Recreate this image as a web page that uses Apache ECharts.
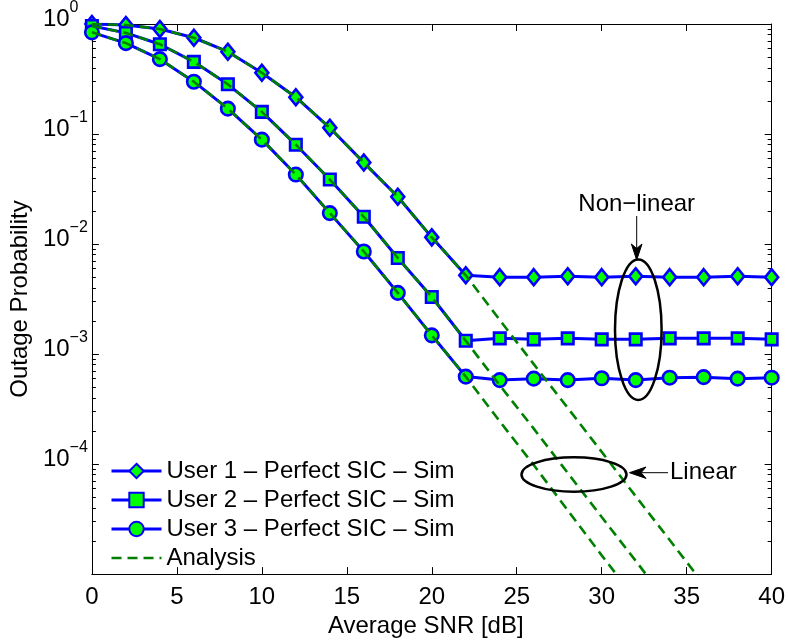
<!DOCTYPE html>
<html><head><meta charset="utf-8">
<script src="https://cdn.jsdelivr.net/npm/echarts@6/dist/echarts.min.js"></script>
<style>html,body{margin:0;padding:0;background:#fff}#c{width:788px;height:643px}</style>
</head><body><div id="c"></div>
<script>
// ---- data ----
const snr = [0,2,4,6,8,10,12,14,16,18,20,22,24,26,28,30,32,34,36,38,40];
const user1Sim = [1.0,0.98,0.90,0.75,0.56,0.36,0.216,0.114,0.055,0.0269,0.0115,0.0052,0.0050,0.0050,0.0051,0.0050,0.0051,0.0050,0.0050,0.0051,0.0050];
const user2Sim = [0.96,0.83,0.655,0.453,0.283,0.159,0.080,0.0386,0.0177,0.00747,0.00330,0.00132,0.00139,0.00136,0.00139,0.00136,0.00136,0.00139,0.00139,0.00139,0.00136];
const user3Sim = [0.84,0.67,0.479,0.299,0.170,0.0889,0.0428,0.0191,0.00856,0.00360,0.00148,0.000624,0.00058,0.000598,0.00058,0.000602,0.00058,0.00061,0.000617,0.000598,0.00061];
const user1Ana = [1.0,0.98,0.90,0.75,0.56,0.36,0.216,0.114,0.055,0.0269,0.0115,0.0052,0.00204,0.00081,0.000324,0.000129,0.000051,0.0000204,0.0000081];
const user2Ana = [0.96,0.83,0.655,0.453,0.283,0.159,0.080,0.0386,0.0177,0.00747,0.00330,0.00132,0.00052,0.00021,0.000083,0.000033,0.0000132,0.0000052];
const user3Ana = [0.84,0.67,0.479,0.299,0.170,0.0889,0.0428,0.0191,0.00856,0.00360,0.00148,0.000624,0.000245,0.000098,0.000038,0.0000148,0.0000059];
const seriesNames = ['User 1 \u2013 Perfect SIC \u2013 Sim','User 2 \u2013 Perfect SIC \u2013 Sim','User 3 \u2013 Perfect SIC \u2013 Sim','Analysis'];
const xTicks = [0,5,10,15,20,25,30,35,40];
const yDecadeExps = [-5,-4,-3,-2,-1,0];
const yMinorMultipliers = [2,3,4,5,6,7,8,9];

// ---- helpers ----
const FONT = 'Liberation Sans, Arial, Helvetica, sans-serif';
const pairs = (xs, ys) => ys.map((y, i) => [xs[i], y]);
const minorExps = [];
yDecadeExps.slice(0, -1).forEach(e => yMinorMultipliers.forEach(m => minorExps.push(e + Math.log10(m))));

const chart = echarts.init(document.getElementById('c'), null, {renderer: 'canvas'});
const G = {left: 90, top: 20, width: 684, height: 563};

const baseAxisX = {
  type: 'value', min: xTicks[0], max: xTicks[xTicks.length - 1], interval: xTicks[1] - xTicks[0],
  splitLine: {show: false},
  axisLine: {onZero: false, lineStyle: {color: '#000', width: 1}},
  axisTick: {inside: true, length: 7, lineStyle: {color: '#000', width: 1}}
};
const symStyle = {color: '#00ff00', borderColor: '#0000ff', borderWidth: 2.6};
const anaLine = {color: '#008000', width: 2.6, type: [10, 6]};

const option = {
  animation: false,
  backgroundColor: '#fff',
  textStyle: {fontFamily: FONT},
  grid: G,
  legend: {
    orient: 'vertical', left: 110, top: 459, padding: 0,
    itemWidth: 50, itemHeight: 18, itemGap: 5,
    lineStyle: {width: 3},
    data: [seriesNames[0], seriesNames[1], seriesNames[2],
           {name: seriesNames[3], itemStyle: {opacity: 0}, lineStyle: {width: 2.6}}],
    textStyle: {fontSize: 24, lineHeight: 24, color: '#000', fontFamily: FONT}
  },
  xAxis: [
    Object.assign({}, baseAxisX, {
      position: 'bottom',
      axisLabel: {fontSize: 24, lineHeight: 24, color: '#000', margin: 11, fontFamily: FONT},
      name: 'Average SNR [dB]', nameLocation: 'middle', nameGap: 33,
      nameTextStyle: {fontSize: 24, lineHeight: 24, color: '#000', fontFamily: FONT, padding: [0, 12, 0, 0]}
    }),
    Object.assign({}, baseAxisX, {position: 'top', axisLabel: {show: false}})
  ],
  yAxis: [
    {
      type: 'log', logBase: 10, min: Math.pow(10, yDecadeExps[0]), max: 1, position: 'left',
      splitLine: {show: false},
      axisLine: {onZero: false, lineStyle: {color: '#000', width: 1}},
      axisTick: {inside: true, length: 7, lineStyle: {color: '#000'}},
      axisLabel: {
        align: 'left', margin: 49, color: '#000', fontFamily: FONT,
        formatter: v => {
          const e = Math.round(Math.log10(v));
          if (e === yDecadeExps[0]) return '';
          return '{b|10}{s|' + (e < 0 ? '\u2212' + (-e) : String(e)) + '}';
        },
        rich: {
          b: {fontSize: 24, lineHeight: 24, padding: [0, 0, 5, 0], verticalAlign: 'bottom', color: '#000', fontFamily: FONT},
          s: {fontSize: 16, lineHeight: 16, padding: [0, 0, 20, 0], verticalAlign: 'bottom', color: '#000', fontFamily: FONT}
        }
      },
      name: 'Outage Probability', nameLocation: 'middle', nameGap: 57, nameRotate: 90,
      nameTextStyle: {fontSize: 24, lineHeight: 24, color: '#000', fontFamily: FONT}
    },
    {
      type: 'value', min: yDecadeExps[0], max: 0, position: 'left',
      splitLine: {show: false}, axisLabel: {show: false},
      axisLine: {show: false, onZero: false},
      axisTick: {inside: true, length: 4, customValues: minorExps, lineStyle: {color: '#000'}}
    },
    {
      type: 'log', logBase: 10, min: Math.pow(10, yDecadeExps[0]), max: 1, position: 'right',
      splitLine: {show: false}, axisLabel: {show: false},
      axisLine: {onZero: false, lineStyle: {color: '#000', width: 1}},
      axisTick: {inside: true, length: 7, lineStyle: {color: '#000'}}
    },
    {
      type: 'value', min: yDecadeExps[0], max: 0, position: 'right',
      splitLine: {show: false}, axisLabel: {show: false},
      axisLine: {show: false, onZero: false},
      axisTick: {inside: true, length: 4, customValues: minorExps, lineStyle: {color: '#000'}}
    }
  ],
  series: [
    {name: seriesNames[0], type: 'line', z: 2, data: pairs(snr, user1Sim), symbol: 'diamond', symbolSize: [13, 16],
     lineStyle: {color: '#0000ff', width: 3}, itemStyle: symStyle},
    {name: seriesNames[1], type: 'line', z: 2, data: pairs(snr, user2Sim), symbol: 'rect', symbolSize: 11.5,
     lineStyle: {color: '#0000ff', width: 3}, itemStyle: symStyle},
    {name: seriesNames[2], type: 'line', z: 2, data: pairs(snr, user3Sim), symbol: 'circle', symbolSize: 13.5,
     lineStyle: {color: '#0000ff', width: 3}, itemStyle: symStyle},
    {name: seriesNames[3], type: 'line', z: 3, data: pairs(snr, user1Ana), symbol: 'none', clip: true,
     lineStyle: anaLine, itemStyle: {color: '#008000'}},
    {name: seriesNames[3], type: 'line', z: 3, data: pairs(snr, user2Ana), symbol: 'none', clip: true,
     lineStyle: anaLine, itemStyle: {color: '#008000'}},
    {name: seriesNames[3], type: 'line', z: 3, data: pairs(snr, user3Ana), symbol: 'none', clip: true,
     lineStyle: anaLine, itemStyle: {color: '#008000'}}
  ],
  graphic: [
    {type: 'ellipse', shape: {cx: 638.3, cy: 329.7, rx: 23.3, ry: 70.3}, style: {fill: null, stroke: '#000', lineWidth: 2.5}, z: 10},
    {type: 'ellipse', shape: {cx: 574, cy: 474.5, rx: 52.5, ry: 17.2}, style: {fill: null, stroke: '#000', lineWidth: 2.5}, z: 10},
    {type: 'line', shape: {x1: 636.7, y1: 216, x2: 636.7, y2: 250}, style: {stroke: '#000', lineWidth: 1}, z: 10},
    {type: 'polygon', shape: {points: [[636.7, 260], [631.4, 244], [636.7, 248.5], [642, 244]]}, style: {fill: '#000', stroke: '#000', lineWidth: 1}, z: 10},
    {type: 'line', shape: {x1: 640, y1: 472.7, x2: 668, y2: 472.7}, style: {stroke: '#000', lineWidth: 1}, z: 10},
    {type: 'polygon', shape: {points: [[629.5, 472.7], [646, 467], [641, 472.7], [646, 478.4]]}, style: {fill: '#000', stroke: '#000', lineWidth: 1}, z: 10},
    {type: 'text', x: 636.7, y: 204, style: {text: 'Non\u2212linear', font: '24px ' + FONT, fill: '#000', align: 'center', verticalAlign: 'middle'}, z: 10},
    {type: 'text', x: 670, y: 472.7, style: {text: 'Linear', font: '24px ' + FONT, fill: '#000', align: 'left', verticalAlign: 'middle'}, z: 10}
  ]
};
chart.setOption(option);
</script>
</body></html>
